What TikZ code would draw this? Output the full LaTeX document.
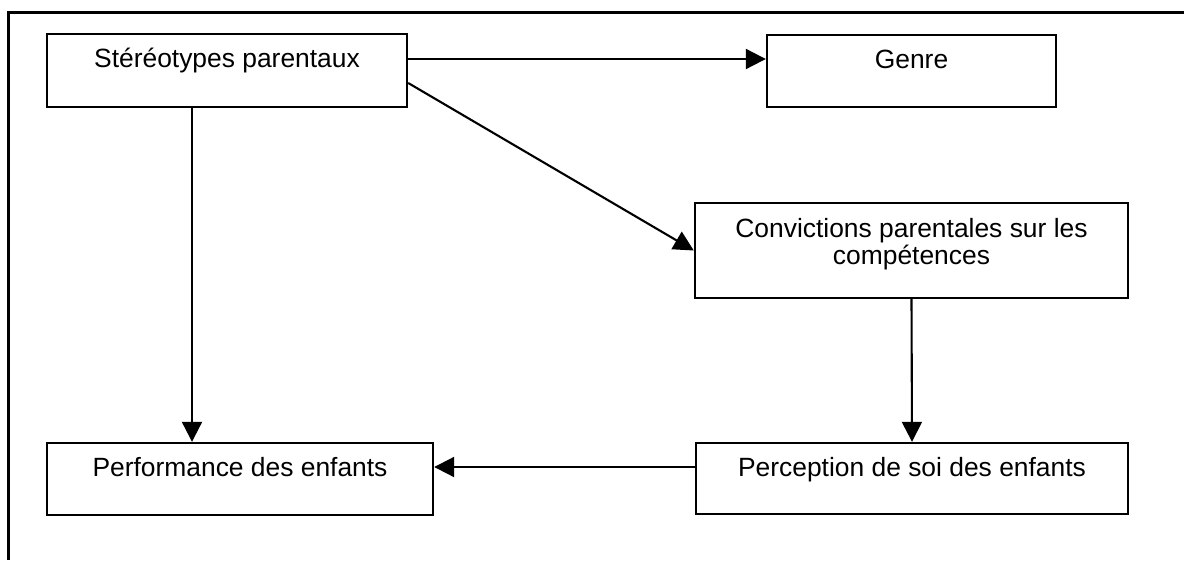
\documentclass[tikz,border=0pt]{standalone}
\usepackage{fontspec}
\setmainfont{Liberation Sans}
\usetikzlibrary{arrows.meta}
\begin{document}
\begin{tikzpicture}[x=1pt,y=-1pt,
  boxnode/.style={draw=black,line width=2.4pt,rectangle,inner sep=0pt},
  lbl/.style={anchor=base,inner sep=0pt,font=\fontsize{26.4}{27.5}\selectfont,align=center},
  arr/.style={line width=2.1pt,-{Triangle[length=20pt,width=20pt]}},
  frameline/.style={line width=3pt}]
\useasboundingbox (0,0) rectangle (1184,560);
\draw[frameline] (1184,12) -- (8,12) -- (8,560);
% boxes
\node[boxnode,minimum width=360pt,minimum height=73pt] (S) at (227,70.5) {};
\node[boxnode,minimum width=289pt,minimum height=72pt] (G) at (911.5,71) {};
\node[boxnode,minimum width=433pt,minimum height=95pt] (C) at (911.5,250.5) {};
\node[boxnode,minimum width=432pt,minimum height=71pt] (P) at (912,478.5) {};
\node[boxnode,minimum width=386pt,minimum height=72pt] (F) at (240,479) {};
% labels
\node[lbl] (St) at ([yshift=-35pt]S.north) {Stéréotypes parentaux};
\node[lbl] (Gt) at ([yshift=-35pt]G.north) {Genre};
\node[lbl,anchor=north] (Ct) at ([yshift=-16pt]C.north) {Convictions parentales sur les\\compétences};
\node[lbl] (Pt) at ([yshift=-35pt]P.north) {Perception de soi des enfants};
\node[lbl] (Ft) at ([yshift=-35pt]F.north) {Performance des enfants};
% arrows
\draw[arr] ([yshift=11.5pt]S.east) -- ([yshift=12pt]G.west);
\draw[arr] ([yshift=-12.5pt]S.east) -- (C.west);
\draw[arr] ([xshift=-35pt]S.south) -- ([xshift=-48pt]F.north);
\draw[arr] (C.south) -- (P.north);
\draw[arr] ([yshift=11.5pt]P.west) -- ([yshift=12pt]F.east);
\end{tikzpicture}
\end{document}
